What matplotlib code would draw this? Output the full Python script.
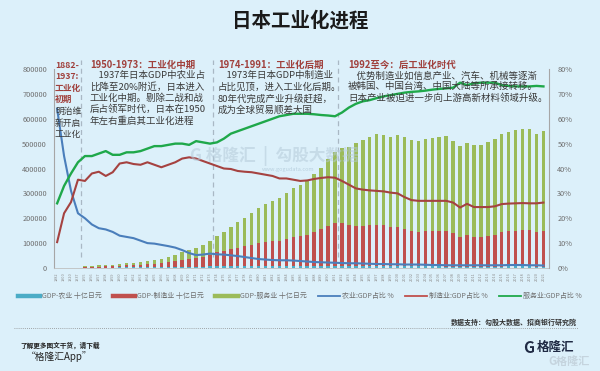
import numpy as np
import matplotlib
matplotlib.use('Agg')
import matplotlib.pyplot as plt
from matplotlib.lines import Line2D

plt.rcParams['font.family'] = ['Noto Sans CJK SC', 'DejaVu Sans']

# categories: four pre-war points, then 1955-2021
years = ['1882', '1900', '1920', '1937'] + [str(y) for y in range(1955, 2022)]

# GDP by sector, billion yen, 1955-2021 (stacked bars)
gdp_agri = [1700, 1600, 1700, 1800, 1900, 2100, 2400, 2600, 2800, 3000,
            3200, 3600, 3900, 4300, 4500, 4400, 4200, 5000, 6500, 7400,
            8000, 8500, 8900, 9000, 8900, 8600, 8800, 8700, 8700, 9300,
            9600, 9400, 9100, 9000, 9300, 9700, 9800, 9700, 9200, 9500,
            9200, 8900, 8500, 8400, 7800, 7900, 7300, 7200, 7200, 6800,
            6300, 6300, 5800, 5600, 5400, 5500, 5400, 5400, 5600, 5700,
            5900, 6500, 6600, 6700, 6100, 5900, 5500]
gdp_manu = [3000, 3600, 4200, 4300, 5100, 6700, 8200, 9000, 10400, 12500,
            13700, 15500, 18600, 22400, 27300, 32600, 35500, 39700, 47300, 55000,
            59300, 66300, 72400, 79100, 85300, 91300, 96700, 100100, 101400, 108200,
            113700, 117400, 123400, 134700, 146200, 160200, 169900, 169200, 163000, 160800,
            161400, 164000, 165600, 162600, 157500, 158000, 149100, 140800, 139200, 140500,
            141500, 142300, 143400, 134000, 119600, 128800, 121000, 121100, 124300, 128500,
            138300, 141000, 143800, 145300, 145100, 140100, 144500]
gdp_serv = [3800, 4200, 5000, 5400, 6000, 7300, 9000, 10000, 11800, 14200,
            16100, 18700, 22100, 26400, 31000, 36300, 41200, 46700, 56300, 67800,
            77100, 90000, 102100, 114500, 126300, 139300, 152200, 162400, 171900, 184800,
            198600, 208000, 217300, 232600, 248300, 269000, 285500, 302100, 313900, 331700,
            343400, 354900, 364800, 364300, 361200, 368700, 368700, 365300, 365900, 371100,
            375800, 379400, 383400, 369300, 366600, 367100, 367000, 368300, 377900, 386100,
            395400, 398500, 403800, 406300, 407300, 394500, 401100]

# sector share of GDP, %
share_agri = [64, 45, 31, 22,
              20, 17.5, 16, 15.5, 14.5, 13, 12.5, 12, 11, 10,
              9.8, 9.3, 8.8, 8.2, 7.2, 6, 5.2, 5.4, 5.8, 5.5,
              5.4, 5.1, 4.8, 4.4, 4, 3.6, 3.4, 3.2, 3.1, 3.1,
              3, 2.8, 2.6, 2.4, 2.3, 2.2, 2.1, 2.0, 1.9, 1.9,
              1.8, 1.7, 1.6, 1.6, 1.5, 1.5, 1.4, 1.4, 1.4, 1.3,
              1.2, 1.2, 1.1, 1.1, 1.1, 1.1, 1.1, 1.1, 1.1, 1.1,
              1.1, 1.2, 1.2, 1.2, 1.1, 1.1, 1.0]
share_manu = [10.4, 22, 26.5, 35.5,
              35, 38, 38.7, 37, 38.5, 42, 42.5, 41.8, 41.5, 42.5,
              41.5, 40.5, 41.5, 42.5, 44, 44.5, 44, 43, 42, 41,
              40, 39.8, 39, 38.7, 38.5, 38, 37.5, 37, 36, 36,
              35.5, 35, 35.2, 35.8, 36.2, 36.5, 36.3, 35, 33.5, 32,
              31.5, 31.2, 31, 30.8, 30.3, 30, 28.5, 27.3, 27, 27,
              27, 27, 27, 26.3, 24.3, 25.8, 24.5, 24.5, 24.5, 24.8,
              25.7, 25.9, 26, 26.1, 26, 26, 26.3]
share_serv = [26, 33, 38, 42.5,
              45, 45, 46, 47, 45.5, 45.5, 46.5, 46.5, 47, 48,
              49, 49, 49.5, 50, 50, 49.5, 51, 50.5, 50, 50.5,
              52, 54, 55, 56, 57, 58, 59, 60, 61, 61.5,
              62, 62, 62, 61.8, 61.5, 61.3, 61, 62.5, 64.5, 66,
              67, 67.5, 68.3, 69, 69.5, 70, 70.5, 70.8, 71, 71.3,
              71.7, 72, 72.2, 72.5, 74.5, 73.5, 74.3, 74.5, 74.5, 74.5,
              73.5, 73.2, 73, 73, 73, 73.2, 73]

bg = '#dcf0fa'
W, H = 600, 371


def fx(x):
    return x / W


def fy(y):
    return 1 - y / H


fig = plt.figure(figsize=(6, 3.71), dpi=100, facecolor=bg)
ax = fig.add_axes([fx(54), fy(268), fx(549) - fx(54), (268 - 69) / H])
ax.set_facecolor(bg)

x_all = np.arange(len(years))
x_bar = x_all[4:]
b1 = np.array(gdp_agri)
b2 = np.array(gdp_manu)
b3 = np.array(gdp_serv)
ax.bar(x_bar, b1, width=0.5, color='#4bacc6', zorder=2)
ax.bar(x_bar, b2, width=0.5, bottom=b1, color='#c0504d', zorder=2)
ax.bar(x_bar, b3, width=0.5, bottom=b1 + b2, color='#9bbb59', zorder=2)

ax.set_xlim(-0.45, 70.8)
ax.set_ylim(0, 800000)
ax.set_yticks(range(0, 800001, 100000))
ax.set_yticklabels([str(v) for v in range(0, 800001, 100000)])
ax.set_xticks(x_all)
ax.set_xticklabels(years, rotation=90, fontsize=2.8, color='#8c8c8c')
ax.tick_params(axis='y', length=0, labelsize=5.3, labelcolor='#6e6e6e', pad=5)
ax.tick_params(axis='x', length=0, pad=3)
ax.spines['top'].set_visible(False)
ax.spines['left'].set_color('#a6a6a6')
ax.spines['right'].set_visible(False)
ax.spines['bottom'].set_color('#bfbfbf')
ax.spines['bottom'].set_linewidth(0.6)

ax2 = ax.twinx()
ax2.plot(x_all, share_agri, color='#4a7ebb', lw=1.5, zorder=3)
ax2.plot(x_all, share_manu, color='#a54240', lw=1.5, zorder=3)
ax2.plot(x_all, share_serv, color='#1fa84a', lw=1.7, zorder=3)
ax2.set_ylim(0, 80)
ax2.set_yticks(range(0, 81, 10))
ax2.set_yticklabels([f'{v}%' for v in range(0, 81, 10)])
ax2.tick_params(axis='y', length=0, labelsize=5.3, labelcolor='#6e6e6e', pad=6)
ax2.spines['top'].set_visible(False)
ax2.spines['left'].set_visible(False)
ax2.spines['bottom'].set_visible(False)
ax2.spines['right'].set_color('#a6a6a6')

# period dividers
for xd in [3.5, 22.5, 40.5]:
    ax.axvline(xd, ymin=0.055, ymax=1.045, color='#a9b8c4', lw=0.9,
               ls=(0, (4, 3)), clip_on=False, zorder=1)

# title
fig.text(0.5, fy(21), '日本工业化进程', ha='center', va='center',
         fontsize=14, fontweight='bold', color='#1a1a1a')

hd = '#a0403c'
body = '#3a3a3a'
fs = 6.8

fig.text(fx(55), fy(61), '1882-\n1937:\n工业化\n初期', ha='left', va='top',
         fontsize=6.3, color=hd, fontweight='bold', linespacing=1.35)
fig.text(fx(55), fy(107), '明治维\n新开启\n工业化', ha='left', va='top',
         fontsize=6.3, color=body, linespacing=1.35)

fig.text(fx(90), fy(65), '1950-1973：工业化中期', ha='left', va='center',
         fontsize=fs, color=hd, fontweight='bold')
fig.text(fx(90), fy(71), '    1937年日本GDP中农业占\n比降至20%附近，日本进入\n工业化中期。剔除二战和战\n后占领军时代，日本在1950\n年左右重启其工业化进程',
         ha='left', va='top', fontsize=fs, color=body, linespacing=1.25)

fig.text(fx(218), fy(65), '1974-1991：工业化后期', ha='left', va='center',
         fontsize=fs, color=hd, fontweight='bold')
fig.text(fx(218), fy(71), '    1973年日本GDP中制造业\n占比见顶，进入工业化后期。\n80年代完成产业升级赶超，\n成为全球贸易顺差大国',
         ha='left', va='top', fontsize=fs, color=body, linespacing=1.25)

fig.text(fx(348), fy(65), '1992至今：后工业化时代', ha='left', va='center',
         fontsize=fs, color=hd, fontweight='bold')
fig.text(fx(348), fy(71), '    优势制造业如信息产业、汽车、机械等逐渐\n被韩国、中国台湾、中国大陆等所承接转移。\n日本产业被迫进一步向上游高新材料领域升级。',
         ha='left', va='top', fontsize=fs, color=body, linespacing=1.25)

# watermark
fig.text(fx(190), fy(156), 'G 格隆汇  |  勾股大数据', ha='left', va='center',
         fontsize=12, color='#b4cad9', alpha=0.55, fontweight='bold', zorder=5)
fig.text(fx(262), fy(169), 'www.gogudata.com', ha='left', va='center',
         fontsize=4, color='#a9c2d3', alpha=0.7, zorder=5)

# legend
handles = [
    Line2D([], [], color='#4bacc6', lw=3.2),
    Line2D([], [], color='#c0504d', lw=3.2),
    Line2D([], [], color='#9bbb59', lw=3.2),
    Line2D([], [], color='#4a7ebb', lw=1.3),
    Line2D([], [], color='#c0504d', lw=1.3),
    Line2D([], [], color='#1fa84a', lw=1.3),
]
labels = ['GDP-农业 十亿日元', 'GDP-制造业 十亿日元', 'GDP-服务业 十亿日元',
          '农业:GDP占比 %', '制造业:GDP占比 %', '服务业:GDP占比 %']
leg = fig.legend(handles, labels, loc='center', bbox_to_anchor=(0.5, fy(296)),
                 ncol=6, frameon=False, fontsize=5, handlelength=3.2,
                 handletextpad=0.3, columnspacing=1.6)
for t in leg.get_texts():
    t.set_color('#6e6e6e')

# footer
fig.text(fx(577), fy(322), '数据支持：勾股大数据、招商银行研究院', ha='right',
         va='center', fontsize=5, color='#333333', fontweight='bold')
fig.add_artist(Line2D([fx(14), fx(578)], [fy(328), fy(328)], color='#8c8c8c',
                      lw=0.6, ls=(0, (1, 1.5))))
fig.text(fx(20), fy(345), '了解更多图文干货，请下载', ha='left', va='center',
         fontsize=4.8, color='#222222', style='italic', fontweight='bold')
fig.text(fx(26), fy(357), '“格隆汇App”', ha='left', va='center',
         fontsize=7, color='#222222', style='italic')
fig.text(fx(523), fy(348), 'G', ha='left', va='center', fontsize=11,
         color='#1f2a44', fontweight='bold')
fig.text(fx(537), fy(347), '格隆汇', ha='left', va='center', fontsize=9,
         color='#1f2a44', fontweight='bold')
fig.text(fx(548), fy(361), 'G格隆汇', ha='left', va='center', fontsize=8,
         color='#c5d4de', fontweight='bold')

fig.savefig('out.png', dpi=100, facecolor=bg)
